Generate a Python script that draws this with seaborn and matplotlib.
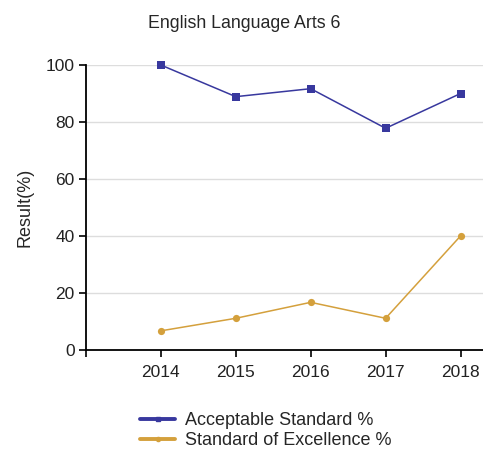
import pandas
import seaborn
import matplotlib.pyplot as plt

# chart values
years = [2014, 2015, 2016, 2017, 2018]
acceptable = [100.0, 88.9, 91.7, 77.8, 90.0]
excellence = [6.7, 11.1, 16.7, 11.1, 40.0]
series_names = ['Acceptable Standard %', 'Standard of Excellence %']
title_text = 'English Language Arts 6'
y_label = 'Result(%)'

data = pandas.DataFrame({
    'Year': years * 2,
    'Result': acceptable + excellence,
    'Series': [series_names[0]] * len(years) + [series_names[1]] * len(years),
})

seaborn.set_style('white')
plt.rcParams['font.family'] = ['Liberation Sans', 'DejaVu Sans']

fig = plt.figure(figsize=(4.83, 4.58), dpi=100)
ax = fig.add_axes([0.178, 0.236, 0.822, 0.622])

colors = {series_names[0]: '#38389e', series_names[1]: '#d4a03c'}
markers = {series_names[0]: 's', series_names[1]: 'o'}
marker_sizes = {series_names[0]: 5.8, series_names[1]: 5.2}

for name in series_names:
    seaborn.lineplot(
        x='Year', y='Result', data=data[data['Series'] == name],
        color=colors[name], marker=markers[name], markersize=marker_sizes[name],
        markeredgewidth=0, linewidth=1.1, ax=ax, clip_on=False
    )

ax.set_xlim(2013, 2018.3)
ax.set_ylim(0, 100)
ax.set_xticks([2013] + years)
ax.set_xticklabels([''] + [str(y) for y in years])
ax.set_yticks(range(0, 101, 20))
ax.yaxis.grid(True, color='#dddddd', linewidth=1)
ax.set_axisbelow(True)
for side in ['top', 'right']:
    ax.spines[side].set_visible(False)
for side in ['left', 'bottom']:
    ax.spines[side].set_color('black')
    ax.spines[side].set_linewidth(1.3)
ax.tick_params(axis='both', direction='out', length=5, width=1.2, color='black',
               labelsize=12.5, labelcolor='#222222', bottom=True, left=True)
ax.tick_params(axis='x', pad=6)
ax.tick_params(axis='y', pad=3)
ax.set_xlabel('')
ax.set_ylabel(y_label, fontsize=13, labelpad=9)
fig.suptitle(title_text, fontsize=12.8, x=0.505, y=0.968)

handles = [
    plt.Line2D([], [], color=colors[n], marker=markers[n], markersize=3, linewidth=2.8)
    for n in series_names
]
fig.legend(handles, series_names, loc='upper left', bbox_to_anchor=(0.29, 0.1),
           frameon=False, fontsize=13, handlelength=1.95, handletextpad=0.55,
           labelspacing=0.15, borderpad=0, borderaxespad=0)

fig.savefig('out.png', dpi=100)
